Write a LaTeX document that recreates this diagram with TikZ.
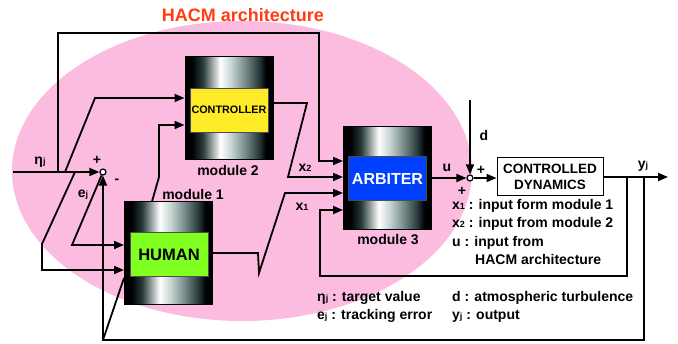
\documentclass[tikz,border=0pt]{standalone}
\usepackage{fontspec}
\setmainfont{Liberation Sans}
\usetikzlibrary{arrows.meta,positioning}
\definecolor{hacmpink}{RGB}{252,188,224}
\definecolor{hacmred}{RGB}{255,60,20}
\definecolor{ctlyellow}{RGB}{255,236,40}
\definecolor{humgreen}{RGB}{128,255,32}
\definecolor{arbblue}{RGB}{0,64,255}
\definecolor{drumdark}{RGB}{40,58,58}
\definecolor{drumgray}{RGB}{120,140,140}
\definecolor{drumlight}{RGB}{200,214,212}
% the path is fitted to the middle part 25bp--75bp
\pgfdeclarehorizontalshading{drum}{100bp}{color(0bp)=(black); color(29bp)=(black); color(35bp)=(drumdark); color(45bp)=(white); color(51bp)=(drumlight); color(59bp)=(drumgray); color(67bp)=(drumdark); color(71bp)=(black); color(100bp)=(black)}
\newcommand{\smallidx}[1]{{\fontsize{9}{9}\selectfont #1}}

\begin{document}
\begin{tikzpicture}[x=1pt,y=-1pt,
    font=\bfseries\fontsize{14}{16}\selectfont,
    >={Triangle[length=10pt,width=8pt]},
    wire/.style={line width=1.8pt},
    drumbox/.style={draw=black,line width=1pt,shade,shading=drum,minimum width=88pt,minimum height=103pt,inner sep=0pt},
    facebox/.style={draw=black!70,line width=0.6pt,minimum width=78pt,minimum height=44pt,inner sep=0pt},
    sumpt/.style={circle,draw=black,fill=white,line width=1.2pt,minimum size=6pt,inner sep=0pt},
    legend/.style={anchor=base west,inner sep=0pt}]
	\useasboundingbox (0,0) rectangle (678,344);
	\fill[hacmpink] (242,171) ellipse[x radius=230, y radius=150];

	% modules
	\node[drumbox] (hum) at (168.5,253.5) {};
	\node[facebox,fill=humgreen,font=\bfseries\fontsize{16.5}{18}\selectfont] (humface) at (169,254.5) {HUMAN};
	\node[drumbox] (ctl) at (229,108.5) {};
	\node[facebox,fill=ctlyellow,font=\bfseries\fontsize{10.8}{12}\selectfont] (ctlface) at (229,110) {CONTROLLER};
	\node[drumbox] (arb) at (387.5,178.5) {};
	\node[facebox,fill=arbblue,text=white,font=\bfseries\fontsize{16}{18}\selectfont] (arbface) at (387.5,178.5) {ARBITER};
	\node[draw,line width=1pt,minimum width=106pt,minimum height=38pt,align=center,font=\bfseries\fontsize{13.5}{15.5}\selectfont] (dyn) at (550,177) {CONTROLLED\\DYNAMICS};

	\node[sumpt] (sum1) at (103,172) {};
	\node[sumpt] (sum2) at (470,178) {};

	\coordinate (etain) at (13,172);
	\coordinate (tapA) at (58,172);
	\coordinate (tapB) at (65,172);
	\coordinate (tapC) at (75,172);
	\coordinate (dtop) at (470,100);
	\coordinate (yout) at (668,177);
	\coordinate (tapY1) at (627,177);
	\coordinate (tapY2) at (644,177);
	\coordinate (fbcorner) at (103,340);

	% signal lines
	\draw[wire,->] (etain) -- (sum1);
	\draw[wire,->] (tapA) -- (58,33) -| (319,161) -- (arb.west |- 0,161);
	\draw[wire,->] (tapB) -- (95,98) -- (ctl.west |- 0,98);
	\draw[wire,->] (tapC) -- (42,244) -- (42,270) -- (hum.west |- 0,270);
	\draw[wire,->] (sum1) -- (72,245) -- (hum.west |- 0,245);
	\draw[wire,->] ([xshift=-16.5pt]hum.north) -- (159,177) -- (159,125) -- (ctl.west |- 0,125);
	\draw[wire,->] (ctl.east |- 0,103) -- (307,103) -- (288,177) -- (arb.west |- 0,177);
	\draw[wire,->] (hum.east |- 0,253) -- (258,253) -- (259,273) -- (285,193) -- (arb.west |- 0,193);
	\draw[wire,->] (arb.east |- sum2) -- (sum2);
	\draw[wire,->] (dtop) -- (sum2);
	\draw[wire,->] (sum2) -- (dyn.west |- sum2);
	\draw[wire,->] (dyn.east) -- (yout);
	\draw[wire,->] (tapY1) -- (627,276) -| (320,210) -- (arb.west |- 0,210);
	\draw[wire,->] (tapY2) |- (fbcorner) -- (sum1);
	\draw[wire] (fbcorner) -- (hum.west |- 0,278);

	% labels
	\node[text=hacmred,font=\bfseries\fontsize{18}{20}\selectfont] (ttl) at (243,15) {HACM architecture};
	\node (etalbl) at (40,162) {η\smallidx{j}};
	\node (plus1) at (97,160) {+};
	\node (minus1) at (117,181) {-};
	\node (elbl) at (83,195) {e\smallidx{j}};
	\node (m2lbl) at (228,170) {module 2};
	\node (m1lbl) at (193,194) {module 1};
	\node (m3lbl) at (388,240) {module 3};
	\node (x2lbl) at (305,168) {x\smallidx{2}};
	\node (x1lbl) at (302,207) {x\smallidx{1}};
	\node (ulbl) at (447,168) {u};
	\node (dlbl) at (484,135) {d};
	\node (plus2) at (481,170) {+};
	\node (plus3) at (462,191) {+};
	\node (ylbl) at (643,166) {y\smallidx{j}};

	% legend
	\node[legend] (leg1) at (452,210) {x\smallidx{1} : input form module 1};
	\node[legend] (leg2) at (452,228) {x\smallidx{2} : input from module 2};
	\node[legend] (leg3) at (452,247) {u : input from};
	\node[legend] (leg4) at (475,265) {HACM architecture};
	\node[legend] (leg5) at (317,302) {η\smallidx{j} : target value};
	\node[legend] (leg6) at (317,320) {e\smallidx{j} : tracking error};
	\node[legend] (leg7) at (452,302) {d : atmospheric turbulence};
	\node[legend] (leg8) at (452,320) {y\smallidx{j} : output};
\end{tikzpicture}
\end{document}
